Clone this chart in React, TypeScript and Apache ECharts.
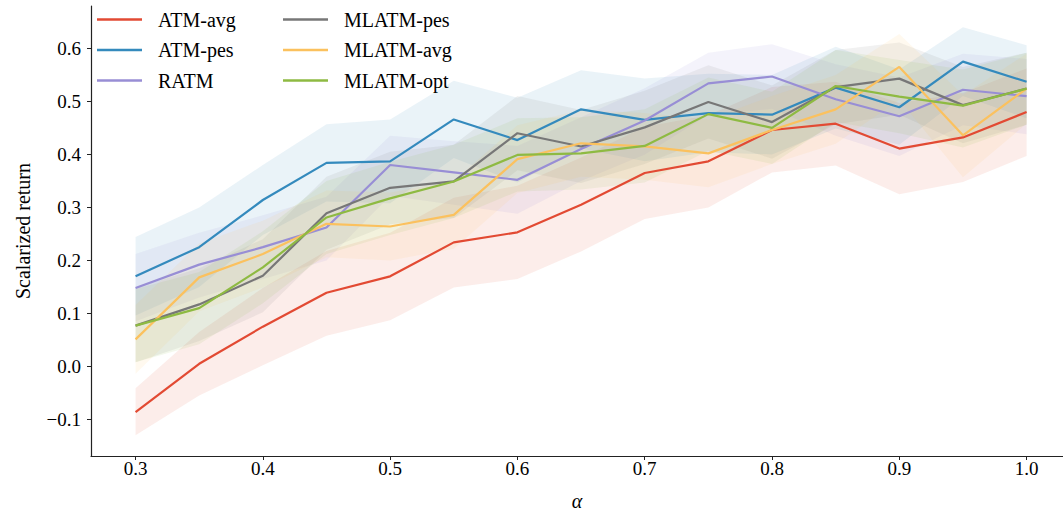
import React, { useEffect, useRef } from "react";
import * as echarts from "echarts";

const ALPHAS = [0.3, 0.35, 0.4, 0.45, 0.5, 0.55, 0.6, 0.65, 0.7, 0.75, 0.8, 0.85, 0.9, 0.95, 1.0];
const X_TICKS = [0.3, 0.4, 0.5, 0.6, 0.7, 0.8, 0.9, 1.0];
const Y_TICKS = [-0.1, 0.0, 0.1, 0.2, 0.3, 0.4, 0.5, 0.6];

const ATM_AVG = [-0.086, 0.005, 0.075, 0.139, 0.170, 0.234, 0.253, 0.305, 0.365, 0.387, 0.446, 0.458, 0.411, 0.432, 0.480];
const ATM_AVG_LO = [-0.130, -0.055, 0.002, 0.058, 0.087, 0.149, 0.165, 0.217, 0.278, 0.300, 0.366, 0.379, 0.325, 0.348, 0.397];
const ATM_AVG_HI = [-0.041, 0.065, 0.148, 0.218, 0.252, 0.318, 0.341, 0.394, 0.452, 0.474, 0.527, 0.537, 0.497, 0.516, 0.562];

const ATM_PES = [0.170, 0.225, 0.314, 0.384, 0.387, 0.466, 0.427, 0.485, 0.465, 0.478, 0.475, 0.526, 0.489, 0.575, 0.537];
const ATM_PES_LO = [0.096, 0.150, 0.248, 0.311, 0.308, 0.393, 0.347, 0.411, 0.387, 0.404, 0.400, 0.449, 0.418, 0.510, 0.468];
const ATM_PES_HI = [0.244, 0.300, 0.380, 0.457, 0.466, 0.539, 0.507, 0.559, 0.543, 0.552, 0.550, 0.603, 0.560, 0.640, 0.606];

const RATM = [0.148, 0.192, 0.225, 0.262, 0.380, 0.366, 0.352, 0.410, 0.464, 0.534, 0.547, 0.504, 0.472, 0.522, 0.510];
const RATM_LO = [0.085, 0.130, 0.165, 0.200, 0.322, 0.305, 0.288, 0.350, 0.400, 0.475, 0.486, 0.435, 0.397, 0.455, 0.438];
const RATM_HI = [0.212, 0.252, 0.285, 0.320, 0.435, 0.425, 0.416, 0.470, 0.525, 0.592, 0.608, 0.570, 0.545, 0.590, 0.580];

const MLATM_PES = [0.077, 0.117, 0.171, 0.289, 0.337, 0.349, 0.440, 0.415, 0.451, 0.499, 0.461, 0.527, 0.543, 0.493, 0.524];
const MLATM_PES_LO = [0.008, 0.048, 0.102, 0.220, 0.268, 0.280, 0.370, 0.346, 0.382, 0.430, 0.392, 0.457, 0.475, 0.421, 0.456];
const MLATM_PES_HI = [0.148, 0.185, 0.240, 0.358, 0.405, 0.418, 0.510, 0.484, 0.520, 0.568, 0.530, 0.597, 0.611, 0.565, 0.592];

const MLATM_AVG = [0.051, 0.168, 0.212, 0.269, 0.264, 0.286, 0.391, 0.421, 0.415, 0.402, 0.446, 0.485, 0.565, 0.436, 0.524];
const MLATM_AVG_LO = [-0.014, 0.104, 0.149, 0.206, 0.200, 0.222, 0.327, 0.358, 0.352, 0.338, 0.382, 0.420, 0.503, 0.357, 0.458];
const MLATM_AVG_HI = [0.116, 0.232, 0.275, 0.332, 0.328, 0.350, 0.455, 0.484, 0.478, 0.466, 0.510, 0.550, 0.627, 0.512, 0.590];

const MLATM_OPT = [0.077, 0.110, 0.187, 0.281, 0.317, 0.349, 0.399, 0.402, 0.416, 0.476, 0.450, 0.529, 0.509, 0.492, 0.524];
const MLATM_OPT_LO = [0.008, 0.042, 0.119, 0.212, 0.248, 0.280, 0.330, 0.334, 0.347, 0.407, 0.382, 0.461, 0.440, 0.413, 0.456];
const MLATM_OPT_HI = [0.146, 0.178, 0.255, 0.350, 0.386, 0.418, 0.468, 0.470, 0.485, 0.545, 0.518, 0.597, 0.578, 0.560, 0.592];

const SERIES = [
  { name: "ATM-avg", color: "#E24A33", mean: ATM_AVG, lo: ATM_AVG_LO, hi: ATM_AVG_HI },
  { name: "ATM-pes", color: "#348ABD", mean: ATM_PES, lo: ATM_PES_LO, hi: ATM_PES_HI },
  { name: "RATM", color: "#988ED5", mean: RATM, lo: RATM_LO, hi: RATM_HI },
  { name: "MLATM-pes", color: "#777777", mean: MLATM_PES, lo: MLATM_PES_LO, hi: MLATM_PES_HI },
  { name: "MLATM-avg", color: "#FBC15E", mean: MLATM_AVG, lo: MLATM_AVG_LO, hi: MLATM_AVG_HI },
  { name: "MLATM-opt", color: "#8EBA42", mean: MLATM_OPT, lo: MLATM_OPT_LO, hi: MLATM_OPT_HI },
];

const FONT = "'Liberation Serif', 'Times New Roman', serif";

function fmt(v: number) {
  const s = v.toFixed(1);
  return s.startsWith("-") ? "\u2212" + s.slice(1) : s;
}

export default function App() {
  const ref = useRef<HTMLDivElement>(null);
  useEffect(() => {
    if (!ref.current) return;
    const chart = echarts.init(ref.current, undefined, { renderer: "svg" });
    const series: any[] = [];
    SERIES.forEach((s) => {
      const rows = ALPHAS.map((x, k) => [x, s.lo[k], s.hi[k]]);
      series.push({
        name: s.name + " band",
        type: "custom",
        data: rows,
        encode: { x: 0, y: [1, 2] },
        silent: true,
        z: 1,
        renderItem: (params: any, api: any) => {
          if (params.dataIndex !== 0) return null;
          const top = rows.map((r) => api.coord([r[0], r[2]]));
          const bot = rows.map((r) => api.coord([r[0], r[1]])).reverse();
          return {
            type: "polygon",
            shape: { points: top.concat(bot) },
            style: { fill: s.color, opacity: 0.1 },
          };
        },
      });
    });
    SERIES.forEach((s) => {
      series.push({
        name: s.name,
        type: "line",
        data: ALPHAS.map((x, k) => [x, s.mean[k]]),
        symbol: "none",
        color: s.color,
        lineStyle: { color: s.color, width: 2.2 },
        z: 3,
      });
    });
    const legendCommon = {
      orient: "vertical",
      top: 4,
      icon: "rect",
      itemWidth: 45,
      itemHeight: 2.5,
      itemGap: 9.5,
      textStyle: { fontFamily: FONT, fontSize: 20, color: "#000", padding: [0, 0, 0, 11], lineHeight: 21 },
    };
    chart.setOption({
      animation: false,
      backgroundColor: "#fff",
      grid: { left: 91, right: 0, top: 6, bottom: 58, containLabel: false },
      legend: [
        { ...legendCommon, left: 92, data: SERIES.slice(0, 3).map((s) => s.name) },
        { ...legendCommon, left: 278, data: SERIES.slice(3).map((s) => s.name) },
      ],
      xAxis: {
        type: "value",
        min: 0.265,
        max: 1.0286,
        name: "\u03b1",
        nameLocation: "middle",
        nameGap: 35,
        nameTextStyle: { fontFamily: FONT, fontSize: 20, fontStyle: "italic", color: "#000" },
        axisLine: { show: true, onZero: false, lineStyle: { color: "#222", width: 1.2 } },
        axisTick: { show: true, length: 4, lineStyle: { color: "#222" }, customValues: X_TICKS },
        axisLabel: { customValues: X_TICKS, formatter: (v: number) => fmt(v), fontFamily: FONT, fontSize: 19, color: "#000", margin: 3 },
        splitLine: { show: false },
      },
      yAxis: {
        type: "value",
        min: -0.169,
        max: 0.68,
        name: "Scalarized return",
        nameLocation: "middle",
        nameGap: 58,
        nameTextStyle: { fontFamily: FONT, fontSize: 20, color: "#000" },
        axisLine: { show: true, onZero: false, lineStyle: { color: "#222", width: 1.2 } },
        axisTick: { show: true, length: 4, lineStyle: { color: "#222" }, customValues: Y_TICKS },
        axisLabel: { customValues: Y_TICKS, formatter: (v: number) => fmt(v), fontFamily: FONT, fontSize: 19, color: "#000", margin: 10 },
        splitLine: { show: false },
      },
      series,
    });
    return () => chart.dispose();
  }, []);
  return <div ref={ref} style={{ position: "fixed", left: 0, top: 0, width: 1063, height: 516 }} />;
}
